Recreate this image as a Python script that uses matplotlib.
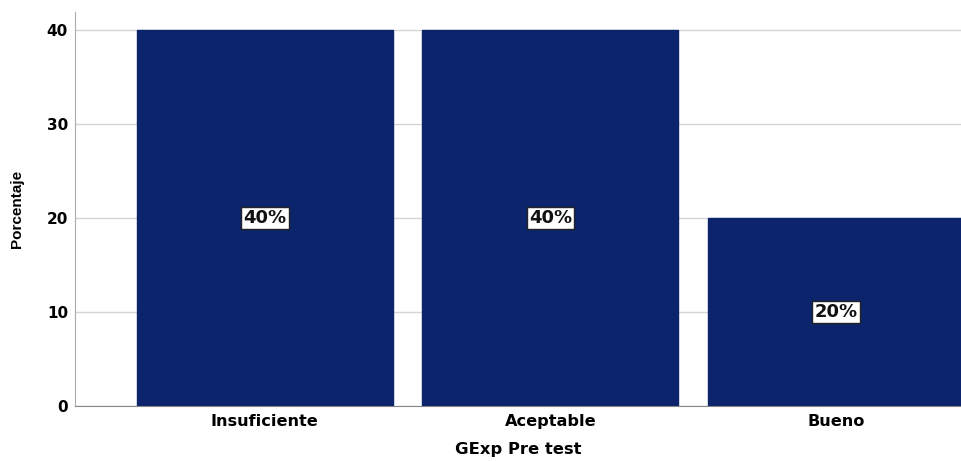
import numpy as np
import matplotlib.pyplot as plt

# data
categories = ['Insuficiente', 'Aceptable', 'Bueno']
porcentaje = [40, 40, 20]
etiquetas  = ['40%', '40%', '20%']

plt.rcParams['font.family'] = ['DejaVu Sans']

fig = plt.figure(figsize=(9.61, 4.61), dpi=100)
ax = fig.add_axes([0.078, 0.1193, 0.922, 0.855])

x = np.arange(len(categories))
bars = ax.bar(x, porcentaje, width=0.897, color='#0b246b', edgecolor='#0b246b', zorder=3)

for b, txt in zip(bars, etiquetas):
    ax.text(b.get_x() + b.get_width() / 2, b.get_height() / 2, txt,
            ha='center', va='center', fontsize=13, fontweight='bold', color='#111111', zorder=4,
            bbox=dict(boxstyle='square,pad=0.12', facecolor='white', edgecolor='#222222', linewidth=1))

ax.set_xlim(-0.665, 2.438)
ax.set_ylim(0, 41.9)
ax.set_yticks([0, 10, 20, 30, 40])
ax.yaxis.grid(True, color='#d4d4d4', linewidth=1, zorder=0)

ax.set_xticks(x)
ax.set_xticklabels(categories, fontsize=11.6, fontweight='bold')
for lab in ax.get_yticklabels():
    lab.set_fontsize(11)
    lab.set_fontweight('bold')

ax.tick_params(axis='y', length=0, pad=5)
ax.tick_params(axis='x', length=0, pad=6)

for s in ['top', 'right']:
    ax.spines[s].set_visible(False)
ax.spines['left'].set_color('#aaaaaa')
ax.spines['bottom'].set_color('#888888')

ax.set_xlabel('GExp Pre test', fontsize=11.8, fontweight='bold', labelpad=9)
ax.set_ylabel('Porcentaje', fontsize=11, fontweight='bold', family='Liberation Sans', labelpad=16)

fig.savefig('out.png', dpi=100)
